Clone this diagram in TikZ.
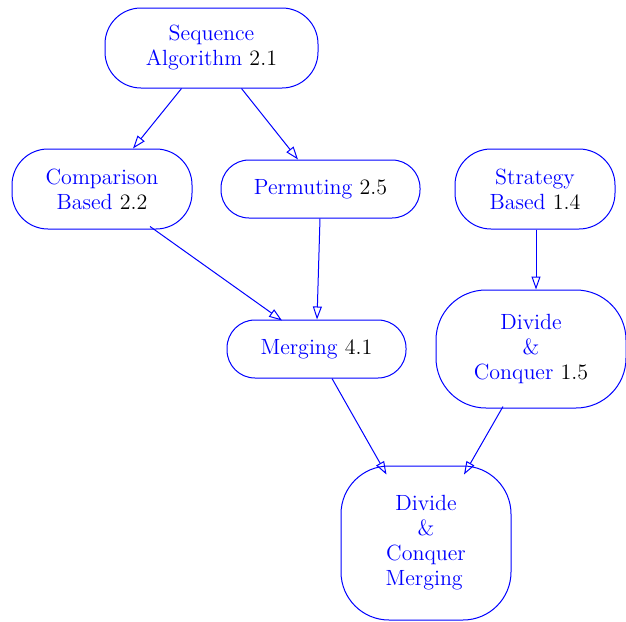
\documentclass[tikz,border=0pt]{standalone}
\usetikzlibrary{arrows.meta,calc}
\begin{document}
\begin{tikzpicture}[x=0.5pt,y=-0.5pt,
  box/.style={draw=blue, text=blue, align=center, inner sep=0pt, line width=0.5pt, font=\fontsize{11}{12.5}\selectfont},
  link/.style={draw=blue, line width=0.5pt, -{Triangle[open,length=6.5pt,width=4.5pt]}}]
\useasboundingbox (0,0) rectangle (626,621);
\node[box, minimum width=106.5pt, minimum height=40pt, rounded corners=18pt] (seq) at (211.5,48) {Sequence\\Algorithm \textcolor{black}{2.1}};
\node[box, minimum width=90pt, minimum height=40pt, rounded corners=18pt] (comp) at (102,189) {Comparison\\Based \textcolor{black}{2.2}};
\node[box, minimum width=99.5pt, minimum height=29pt, rounded corners=14pt] (perm) at (320.5,189) {Permuting \textcolor{black}{2.5}};
\node[box, minimum width=80pt, minimum height=40pt, rounded corners=18pt] (strat) at (535,189) {Strategy\\Based \textcolor{black}{1.4}};
\node[box, minimum width=89.5pt, minimum height=29pt, rounded corners=14pt] (merg) at (316.5,349) {Merging \textcolor{black}{4.1}};
\node[box, minimum width=95pt, minimum height=59pt, rounded corners=25pt] (dc) at (531,349) {Divide\\\&\\Conquer \textcolor{black}{1.5}};
\node[box, minimum width=85pt, minimum height=77pt, rounded corners=24pt] (dcm) at (426,543) {Divide\\\&\\Conquer\\Merging\,};
\draw[link] ($(seq.south)+(-30,0)$) -- ($(comp.north)+(31,0)$);
\draw[link] ($(seq.south)+(30,0)$) -- ($(perm.north)+(-22.5,0)$);
\draw[link] ($(comp.south)+(48,-3)$) -- ($(merg.north)+(-34.5,1)$);
\draw[link] ($(perm.south)+(-0.5,0)$) -- ($(merg.north)+(0.5,0)$);
\draw[link] ($(strat.south)+(1,0)$) -- ($(dc.north)+(5,0)$);
\draw[link] ($(merg.south)+(15.5,0)$) -- ($(dcm.north)+(-39.5,9)$);
\draw[link] ($(dc.south)+(-28,-2)$) -- ($(dcm.north)+(38,9)$);
\end{tikzpicture}
\end{document}
